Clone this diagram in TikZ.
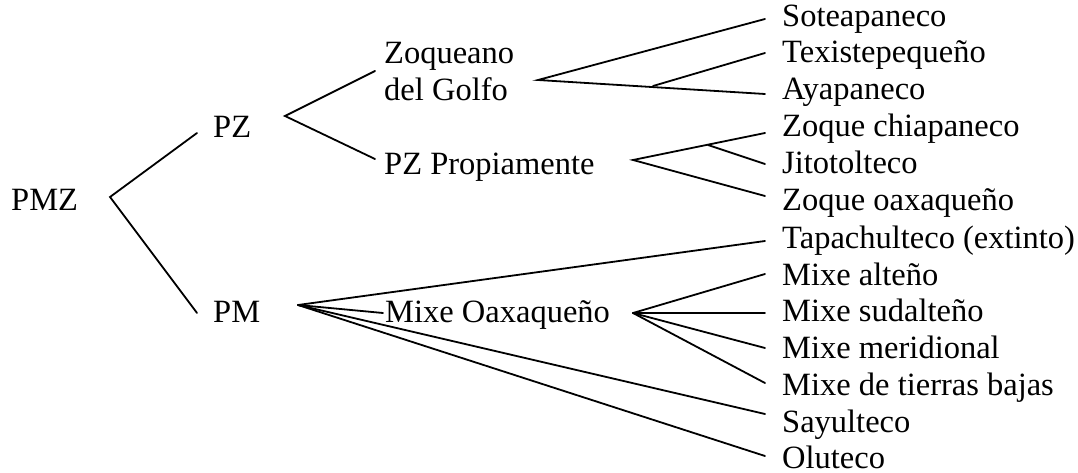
\documentclass[tikz,border=0pt]{standalone}
\usepackage{fontspec}
\setmainfont{Liberation Serif}
\begin{document}
\begin{tikzpicture}[x=1pt,y=-1pt,
  lbl/.style={anchor=base west,inner sep=0pt,font=\fontsize{32.5}{36.5}\selectfont},
  edge/.style={line width=1.8pt,line cap=round,line join=miter}]
\useasboundingbox (0,0) rectangle (1078,473);
% labels
\node[lbl] (pmz) at (11,211) {PMZ};
\node[lbl] (pz) at (213,138) {PZ};
\node[lbl] (pm) at (213,322) {PM};
\node[lbl,anchor=north west,align=left] (zg) at (384,42.5) {Zoqueano\\del Golfo};
\node[lbl] (pzp) at (384,175) {PZ Propiamente};
\node[lbl] (mo) at (385,322) {Mixe Oaxaque\~no};
\node[lbl] (sote) at (782,27) {Soteapaneco};
\node[lbl] (texi) at (782,63) {Texistepeque\~no};
\node[lbl] (ayap) at (782,100) {Ayapaneco};
\node[lbl] (zchi) at (782,137) {Zoque chiapaneco};
\node[lbl] (jito) at (782,174) {Jitotolteco};
\node[lbl] (zoax) at (782,211) {Zoque oaxaque\~no};
\node[lbl] (tapa) at (782,248) {Tapachulteco (extinto)};
\node[lbl] (malt) at (782,285) {Mixe alte\~no};
\node[lbl] (msud) at (782,321) {Mixe sudalte\~no};
\node[lbl] (mmer) at (782,358) {Mixe meridional};
\node[lbl] (mtb) at (782,395) {Mixe de tierras bajas};
\node[lbl] (sayu) at (782,432) {Sayulteco};
\node[lbl] (olut) at (782,468) {Oluteco};
% branch points and line ends
\coordinate (v0) at (110,197);
\coordinate (pzin) at (197,133);
\coordinate (pmin) at (197,313);
\coordinate (v1) at (285,116);
\coordinate (zgin) at (375,71);
\coordinate (pzpin) at (375,159);
\coordinate (v2) at (538,80);
\coordinate (v2b) at (653,86);
\coordinate (v3) at (633,160);
\coordinate (v3b) at (708,145);
\coordinate (v4) at (298,305);
\coordinate (moin) at (383,313);
\coordinate (v5) at (633,313);
\coordinate (sotein) at (765,19);
\coordinate (texiin) at (765,53);
\coordinate (ayapin) at (765,94);
\coordinate (zchiin) at (765,133);
\coordinate (jitoin) at (765,164);
\coordinate (zoaxin) at (765,196);
\coordinate (tapain) at (765,241);
\coordinate (maltin) at (765,274);
\coordinate (msudin) at (765,313);
\coordinate (mmerin) at (765,348);
\coordinate (mtbin) at (765,383);
\coordinate (sayuin) at (765,414);
\coordinate (olutin) at (765,456);
% connectors
\draw[edge] (pzin) -- (v0) -- (pmin);
\draw[edge] (zgin) -- (v1) -- (pzpin);
\draw[edge] (sotein) -- (v2) -- (ayapin);
\draw[edge] (v2b) -- (texiin);
\draw[edge] (zchiin) -- (v3) -- (zoaxin);
\draw[edge] (v3b) -- (jitoin);
\draw[edge] (v4) -- (tapain);
\draw[edge] (v4) -- (moin);
\draw[edge] (v4) -- (sayuin);
\draw[edge] (v4) -- (olutin);
\draw[edge] (v5) -- (maltin);
\draw[edge] (v5) -- (msudin);
\draw[edge] (v5) -- (mmerin);
\draw[edge] (v5) -- (mtbin);
\end{tikzpicture}
\end{document}
